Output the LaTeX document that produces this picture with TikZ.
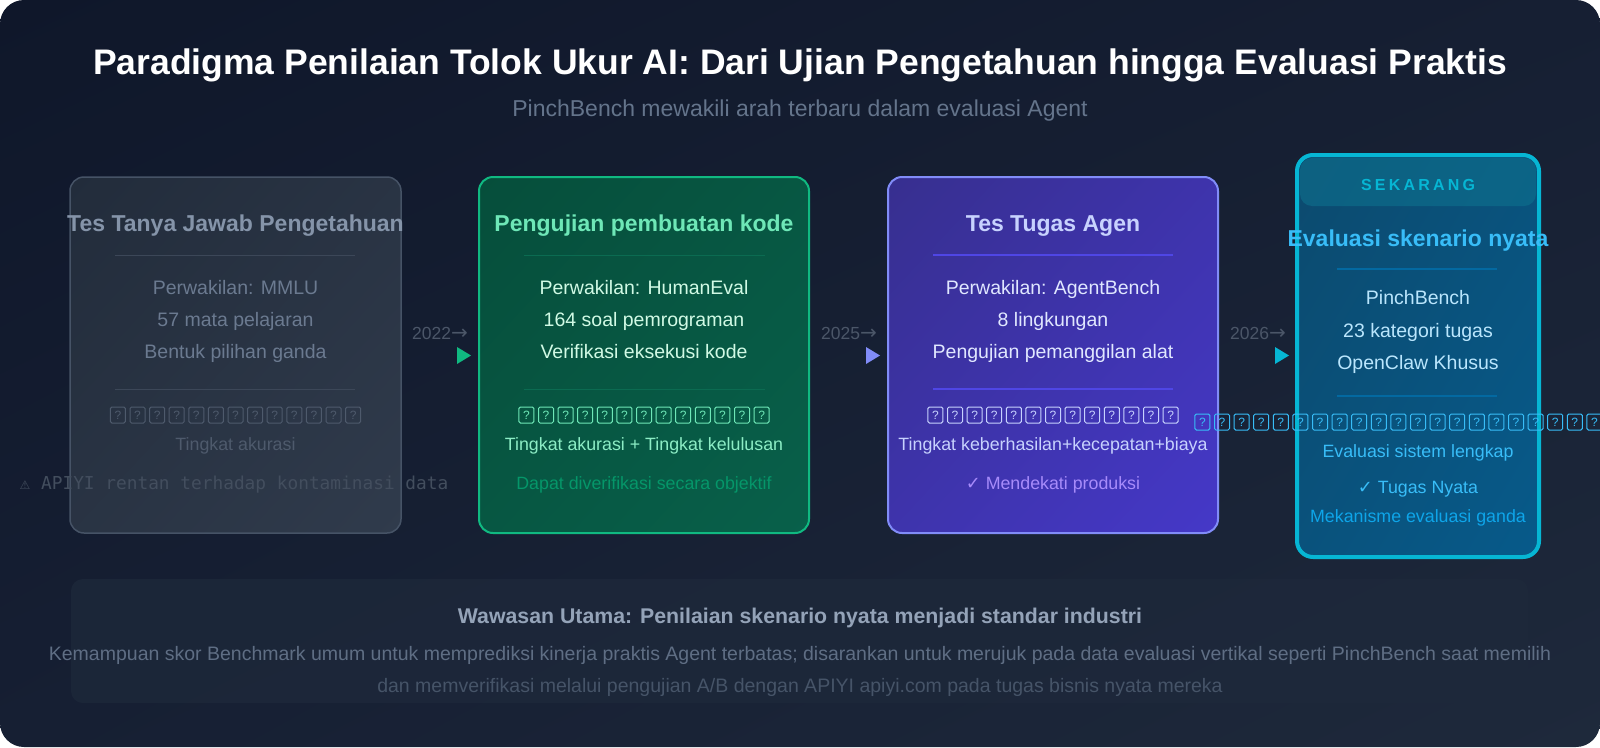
\documentclass[tikz,border=0pt]{standalone}
\usepackage{fontspec}
\setmainfont{Liberation Sans}
\newfontfamily\dejavu{DejaVu Sans}
\newfontfamily\dmono{DejaVu Sans Mono}
\usetikzlibrary{shapes.geometric,shadings}
\definecolor{bgA}{HTML}{0F172A}
\definecolor{bgM}{HTML}{161F33}
\definecolor{bgB}{HTML}{1E293B}
\definecolor{grayA}{HTML}{222C3B}
\definecolor{grayB}{HTML}{303B4C}
\definecolor{grayBorder}{HTML}{465366}
\definecolor{grayTitle}{HTML}{8594A9}
\definecolor{grayBody}{HTML}{6B7A90}
\definecolor{grayDim}{HTML}{4E5A6C}
\definecolor{grayWarn}{HTML}{434E5E}
\definecolor{grayDiv}{HTML}{3C4758}
\definecolor{grnA}{HTML}{064E3B}
\definecolor{grnB}{HTML}{08604A}
\definecolor{grnBorder}{HTML}{10B981}
\definecolor{grnTitle}{HTML}{6EE7B7}
\definecolor{grnBody}{HTML}{D1FAE5}
\definecolor{grnDark}{HTML}{059669}
\definecolor{grnDiv}{HTML}{0B6B51}
\definecolor{indA}{HTML}{372F8F}
\definecolor{indB}{HTML}{4538C8}
\definecolor{indBorder}{HTML}{818CF8}
\definecolor{indTitle}{HTML}{C7D2FE}
\definecolor{indBody}{HTML}{E0E7FF}
\definecolor{indDiv}{HTML}{4F46E5}
\definecolor{violet}{HTML}{A78BFA}
\definecolor{skyA}{HTML}{0C4A6E}
\definecolor{skyB}{HTML}{075A8A}
\definecolor{cyanBorder}{HTML}{06B6D4}
\definecolor{skyTitle}{HTML}{38BDF8}
\definecolor{skyBody}{HTML}{BAE6FD}
\definecolor{skyDiv}{HTML}{0369A1}
\definecolor{skyDeep}{HTML}{0EA5E9}
\definecolor{band}{HTML}{0E7490}
\definecolor{yearGray}{HTML}{4B5668}
\definecolor{subGray}{HTML}{64748B}
\definecolor{panelFill}{HTML}{1E293B}
\definecolor{panTitle}{HTML}{94A3B8}
\definecolor{panLine}{HTML}{5F6E84}
\definecolor{panLine2}{HTML}{465468}

\newcommand\tofurow[5]{%
  \foreach \i in {1,...,#4}{%
    \node[tofu, draw=#5, text=#5] (#1-\i) at ({#2 + (\i - (#4+1)/2)*19.6}, #3) {?};
  }%
}

\begin{document}
\begin{tikzpicture}[x=1pt,y=-1pt,
  txt/.style={anchor=base, inner sep=0pt},
  fMain/.style={font=\fontsize{35.5}{42}\selectfont\bfseries},
  fSub/.style={font=\fontsize{23}{27}\selectfont},
  fBoxTitle/.style={font=\fontsize{23}{27}\selectfont\bfseries},
  fBody/.style={font=\fontsize{19.5}{23}\selectfont},
  fSmall/.style={font=\fontsize{17.8}{21}\selectfont},
  fYear/.style={font=\fontsize{17.5}{20}\selectfont},
  tofu/.style={rectangle, rounded corners=1.5pt, line width=1pt, minimum width=15pt, minimum height=16pt, inner sep=0pt, font=\fontsize{12}{13}\selectfont},
  card/.style={rectangle, rounded corners=14pt, inner sep=0pt},
]
\useasboundingbox (0,0) rectangle (1600,747);
\fill[white] (0,0) rectangle (1600,747);
\shade[rounded corners=24pt, upper left=bgA, upper right=bgM, lower left=bgM, lower right=bgB] (0,0) rectangle (1600,747);

% title
\node[txt, fMain, text=white] (title) at (800,74) {Paradigma Penilaian Tolok Ukur AI: Dari Ujian Pengetahuan hingga Evaluasi Praktis};
\node[txt, fSub, text=subGray] (subtitle) at (800,116) {PinchBench mewakili arah terbaru dalam evaluasi Agent};

% ---------- card 1 ----------
\node[card, minimum width=331pt, minimum height=356pt, upper left=grayA, lower right=grayB, upper right=grayA!50!grayB, lower left=grayA!50!grayB, shade, draw=grayBorder, line width=1.5pt] (b1) at (235.5,355) {};
\node[txt, fBoxTitle, text=grayTitle] (b1t) at (235.5,231) {Tes Tanya Jawab Pengetahuan};
\draw[grayDiv, line width=1pt] (115,255) -- (355,255);
\node[txt, fBody, text=grayBody] (b1l1) at (235.5,294.5) {Perwakilan: MMLU};
\node[txt, fBody, text=grayBody] (b1l2) at (235.5,326.5) {57 mata pelajaran};
\node[txt, fBody, text=grayBody] (b1l3) at (235.5,358.5) {Bentuk pilihan ganda};
\draw[grayDiv, line width=1pt] (115,389) -- (355,389);
\tofurow{b1q}{235.5}{415}{13}{grayDim}
\node[txt, fSmall, text=grayDim] (b1m) at (235.5,450) {Tingkat akurasi};
\node[txt, font=\fontsize{17.8}{20}\selectfont\dmono, text=grayWarn] (b1w) at (234,489) {{\dejavu\fontsize{12}{14}\selectfont ⚠} APIYI rentan terhadap kontaminasi data};

% ---------- card 2 ----------
\node[card, minimum width=330pt, minimum height=356pt, upper left=grnA, lower right=grnB, upper right=grnA!50!grnB, lower left=grnA!50!grnB, shade, draw=grnBorder, line width=2pt] (b2) at (644,355) {};
\node[txt, fBoxTitle, text=grnTitle] (b2t) at (644,231) {Pengujian pembuatan kode};
\draw[grnDiv, line width=1pt] (524,255) -- (765,255);
\node[txt, fBody, text=grnBody] (b2l1) at (644,294.5) {Perwakilan: HumanEval};
\node[txt, fBody, text=grnBody] (b2l2) at (644,326.5) {164 soal pemrograman};
\node[txt, fBody, text=grnBody] (b2l3) at (644,358.5) {Verifikasi eksekusi kode};
\draw[grnDiv, line width=1pt] (524,389) -- (765,389);
\tofurow{b2q}{644}{415}{13}{grnTitle}
\node[txt, fSmall, text=grnTitle!70!grnBody] (b2m) at (644,450) {Tingkat akurasi + Tingkat kelulusan};
\node[txt, fSmall, text=grnDark] (b2n) at (644,489) {Dapat diverifikasi secara objektif};

% ---------- card 3 ----------
\node[card, minimum width=330pt, minimum height=356pt, upper left=indA, lower right=indB, upper right=indA!50!indB, lower left=indA!50!indB, shade, draw=indBorder, line width=2pt] (b3) at (1053,355) {};
\node[txt, fBoxTitle, text=indTitle] (b3t) at (1053,231) {Tes Tugas Agen};
\draw[indDiv, line width=1.2pt] (933,255) -- (1173,255);
\node[txt, fBody, text=indBody] (b3l1) at (1053,294.5) {Perwakilan: AgentBench};
\node[txt, fBody, text=indBody] (b3l2) at (1053,326.5) {8 lingkungan};
\node[txt, fBody, text=indBody] (b3l3) at (1053,358.5) {Pengujian pemanggilan alat};
\draw[indDiv, line width=1.2pt] (933,389) -- (1173,389);
\tofurow{b3q}{1053}{415}{13}{indTitle}
\node[txt, fSmall, text=indTitle] (b3m) at (1053,450) {Tingkat keberhasilan+kecepatan+biaya};
\node[txt, fSmall, text=violet] (b3n) at (1053,489) {{\dejavu ✓} Mendekati produksi};

% ---------- card 4 ----------
\node[card, rounded corners=16pt, minimum width=242pt, minimum height=402pt, upper left=skyA, lower right=skyB, upper right=skyA!50!skyB, lower left=skyA!50!skyB, shade, draw=cyanBorder, line width=4pt] (b4) at (1418,356) {};
\fill[band, opacity=0.55, rounded corners=12pt] (1300,158) rectangle (1536,206);
\node[txt, font=\fontsize{16}{19}\selectfont\bfseries\addfontfeatures{LetterSpace=20}, text=cyanBorder] (b4h) at (1418,190) {SEKARANG};
\node[txt, fBoxTitle, text=skyTitle] (b4t) at (1418,246) {Evaluasi skenario nyata};
\draw[skyDiv, line width=1.2pt] (1337,269) -- (1497,269);
\node[txt, fBody, text=skyBody] (b4l1) at (1418,304) {PinchBench};
\node[txt, fBody, text=skyBody] (b4l2) at (1418,337) {23 kategori tugas};
\node[txt, fBody, text=skyBody] (b4l3) at (1418,369) {OpenClaw Khusus};
\draw[skyDiv, line width=1.2pt] (1337,396) -- (1497,396);
\tofurow{b4q}{1418}{422}{23}{skyTitle}
\node[txt, fSmall, text=skyTitle] (b4m) at (1418,457) {Evaluasi sistem lengkap};
\node[txt, fSmall, text=skyTitle] (b4n) at (1418,493) {{\dejavu ✓} Tugas Nyata};
\node[txt, fSmall, text=skyDeep] (b4o) at (1418,522) {Mekanisme evaluasi ganda};

% ---------- year markers ----------
\node[txt, fYear, text=yearGray, anchor=base west] (y1) at (412,339) {2022{\dejavu\fontsize{20}{22}\selectfont →}};
\node[txt, fYear, text=yearGray, anchor=base west] (y2) at (821,339) {2025{\dejavu\fontsize{20}{22}\selectfont →}};
\node[txt, fYear, text=yearGray, anchor=base west] (y3) at (1230,339) {2026{\dejavu\fontsize{20}{22}\selectfont →}};
\fill[grnBorder] (457,347) -- (471,355.5) -- (457,364) -- cycle;
\fill[indBorder] (866,347) -- (880,355.5) -- (866,364) -- cycle;
\fill[cyanBorder] (1275,347) -- (1289,355.5) -- (1275,364) -- cycle;

% ---------- bottom panel ----------
\node[rectangle, rounded corners=12pt, minimum width=1457pt, minimum height=124pt, fill=panelFill, fill opacity=0.75, inner sep=0pt] (panel) at (799.5,641) {};
\node[txt, font=\fontsize{21.3}{25}\selectfont\bfseries, text=panTitle] (pt) at (800,623) {Wawasan Utama: Penilaian skenario nyata menjadi standar industri};
\node[txt, font=\fontsize{19.5}{23}\selectfont, text=panLine] (pl1) at (800,660) {Kemampuan skor Benchmark umum untuk memprediksi kinerja praktis Agent terbatas; disarankan untuk merujuk pada data evaluasi vertikal seperti PinchBench saat memilih};
\node[txt, font=\fontsize{19.5}{23}\selectfont, text=panLine2] (pl2) at (800,692) {dan memverifikasi melalui pengujian A/B dengan APIYI apiyi.com pada tugas bisnis nyata mereka};
\end{tikzpicture}
\end{document}
